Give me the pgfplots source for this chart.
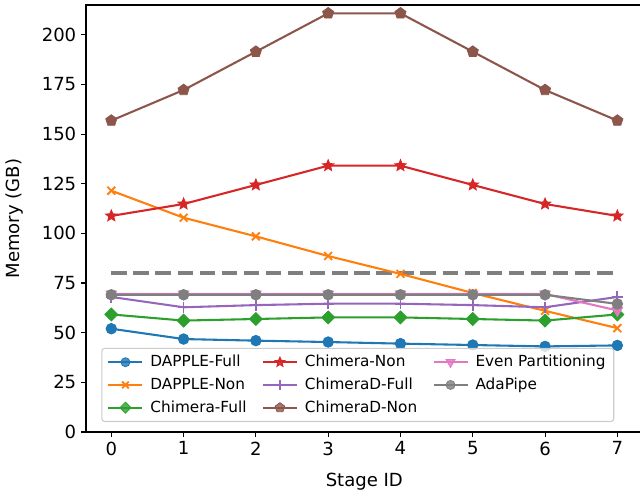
\documentclass[border=0pt]{standalone}
\usepackage{pgfplots}
\pgfplotsset{compat=1.18}
\usepackage{fontspec}
\setmainfont{DejaVu Sans}
\usetikzlibrary{plotmarks}
\definecolor{c0}{HTML}{1F77B4}
\definecolor{c1}{HTML}{FF7F0E}
\definecolor{c2}{HTML}{2CA02C}
\definecolor{c3}{HTML}{D62728}
\definecolor{c4}{HTML}{9467BD}
\definecolor{c5}{HTML}{8C564B}
\definecolor{c6}{HTML}{E377C2}
\definecolor{c7}{HTML}{7F7F7F}
\pgfdeclareplotmark{fstar}{%
  \pgfpathmoveto{\pgfpointpolar{90}{\pgfplotmarksize}}%
  \pgfpathlineto{\pgfpointpolar{126}{0.45\pgfplotmarksize}}%
  \pgfpathlineto{\pgfpointpolar{162}{\pgfplotmarksize}}%
  \pgfpathlineto{\pgfpointpolar{198}{0.45\pgfplotmarksize}}%
  \pgfpathlineto{\pgfpointpolar{234}{\pgfplotmarksize}}%
  \pgfpathlineto{\pgfpointpolar{270}{0.45\pgfplotmarksize}}%
  \pgfpathlineto{\pgfpointpolar{306}{\pgfplotmarksize}}%
  \pgfpathlineto{\pgfpointpolar{342}{0.45\pgfplotmarksize}}%
  \pgfpathlineto{\pgfpointpolar{18}{\pgfplotmarksize}}%
  \pgfpathlineto{\pgfpointpolar{54}{0.45\pgfplotmarksize}}%
  \pgfpathclose
  \pgfusepathqfillstroke}
\pgfplotsset{
  sDF/.style={color=c0, line width=1.5pt, mark=*, mark size=3.8pt, mark options={solid, fill=c0, draw=c0, line width=0.6pt}},
  sDN/.style={color=c1, line width=1.5pt, mark=x, mark size=4pt, mark options={solid, draw=c1, line width=1.3pt}},
  sCF/.style={color=c2, line width=1.5pt, mark=square*, mark size=3.3pt, mark options={solid, fill=c2, draw=c2, line width=0.6pt, rotate=45}},
  sCN/.style={color=c3, line width=1.5pt, mark=fstar, mark size=3.8pt, mark options={solid, fill=c3, draw=c3, line width=1pt}},
  sDDF/.style={color=c4, line width=1.5pt, mark=+, mark size=4pt, mark options={solid, draw=c4, line width=1.3pt}},
  sDDN/.style={color=c5, line width=1.5pt, mark=pentagon*, mark size=4.2pt, mark options={solid, fill=c5, draw=c5, line width=0.6pt}},
  sEP/.style={color=c6, line width=1.5pt, mark=triangle*, mark size=4.4pt, mark options={solid, fill=c6, draw=c6, line width=0.6pt, rotate=180}},
  sAP/.style={color=c7, line width=1.5pt, mark=*, mark size=3.8pt, mark options={solid, fill=c7, draw=c7, line width=0.6pt}},
}
\begin{document}
\begin{tikzpicture}[x=1pt,y=1pt]
\useasboundingbox (-61.92,-46.08) rectangle (398.88,311.04);
\begin{axis}[
  at={(0,0)}, anchor=south west,
  scale only axis, width=400.8pt, height=307.44pt,
  xmin=-0.35, xmax=7.35, ymin=0, ymax=215,
  xtick={0,1,2,3,4,5,6,7},
  ytick={0,25,50,75,100,125,150,175,200},
  xtick pos=lower, ytick pos=left,
  tick align=outside,
  major tick length=3.5pt,
  every tick/.style={black, line width=0.8pt},
  axis line style={line width=0.8pt, black},
  /pgf/number format/assume math mode=true,
  ticklabel style={font=\fontsize{13}{15.6}\selectfont},
  label style={font=\fontsize{13}{15.6}\selectfont},
  xlabel={Stage ID},
  ylabel={Memory (GB)},
  xlabel style={at={(axis description cs:0.5,-0.117)}, anchor=center},
  ylabel style={at={(axis description cs:-0.1276,0.5)}, anchor=center},
  legend columns=3,
  legend cell align=left,
  legend image code/.code={%
    \draw[mark repeat=2,mark phase=2, /tikz/every mark/.append style={scale=0.85}] plot coordinates {(0pt,0pt) (12.25pt,0pt) (24.5pt,0pt)};},
  legend style={at={(axis cs:3.41,0)}, anchor=south, yshift=7.2pt,
    draw=black!20, line width=0.8pt, rounded corners=2pt, fill=white, fill opacity=0.8, text opacity=1,
    font=\fontsize{11}{13.2}\selectfont, inner xsep=4pt, inner ysep=3pt,
    row sep=2.5pt,
    /tikz/every odd column/.append style={column sep=3pt},
    /tikz/every even column/.append style={column sep=9pt}},
]
\addplot[color=c7, line width=3pt, dash pattern=on 11.1pt off 4.8pt, forget plot] coordinates {(0,80) (7,80)};
\addplot[sDF, forget plot] coordinates {(0,52.0) (1,46.8) (2,46.0) (3,45.3) (4,44.5) (5,43.8) (6,43.1) (7,43.6)};
\addplot[sDN, forget plot] coordinates {(0,121.5) (1,107.9) (2,98.5) (3,88.6) (4,79.6) (5,70.0) (6,61.0) (7,52.3)};
\addplot[sCF, forget plot] coordinates {(0,59.2) (1,56.1) (2,56.9) (3,57.7) (4,57.7) (5,56.9) (6,56.1) (7,59.2)};
\addplot[sCN, forget plot] coordinates {(0,108.8) (1,114.8) (2,124.4) (3,134.1) (4,134.1) (5,124.4) (6,114.8) (7,108.8)};
\addplot[sDDF, forget plot] coordinates {(0,68.0) (1,62.8) (2,63.9) (3,64.6) (4,64.6) (5,63.9) (6,62.8) (7,68.0)};
\addplot[sDDN, forget plot] coordinates {(0,156.8) (1,172.2) (2,191.5) (3,210.8) (4,210.8) (5,191.5) (6,172.2) (7,156.8)};
\addplot[sEP, forget plot] coordinates {(0,69.5) (1,69.5) (2,69.5) (3,69.5) (4,69.5) (5,69.5) (6,69.5) (7,61.2)};
\addplot[sAP, forget plot] coordinates {(0,69.1) (1,69.1) (2,69.1) (3,69.1) (4,69.1) (5,69.1) (6,69.1) (7,64.5)};
\addlegendimage{sDF}\addlegendentry{DAPPLE-Full}
\addlegendimage{sCN}\addlegendentry{Chimera-Non}
\addlegendimage{sEP}\addlegendentry{Even Partitioning}
\addlegendimage{sDN}\addlegendentry{DAPPLE-Non}
\addlegendimage{sDDF}\addlegendentry{ChimeraD-Full}
\addlegendimage{sAP}\addlegendentry{AdaPipe}
\addlegendimage{sCF}\addlegendentry{Chimera-Full}
\addlegendimage{sDDN}\addlegendentry{ChimeraD-Non}
\end{axis}
\end{tikzpicture}
\end{document}
